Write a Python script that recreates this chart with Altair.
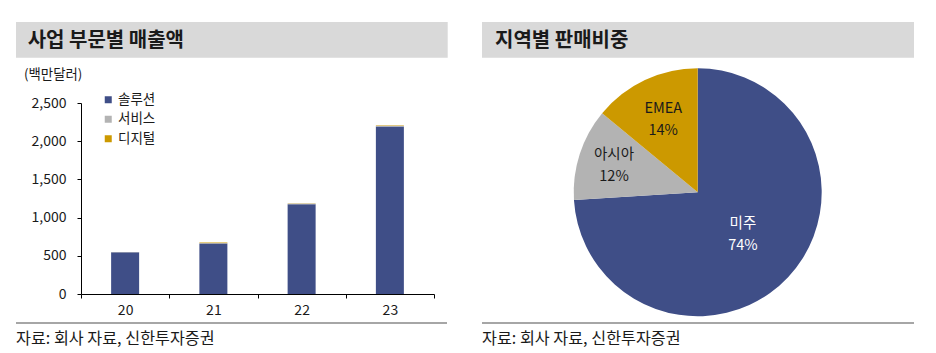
import altair as alt
import pandas as pd

FONT = "Noto Sans CJK KR"

# ---- data ----
years = ["20", "21", "22", "23"]
segments = ["솔루션", "서비스", "디지털"]
solution = [545, 662, 1175, 2192]
service = [5, 4, 8, 9]
digital = [0, 8, 3, 6]
seg_colors = ["#3F4E87", "#B3B3B3", "#CC9900"]
y_ticks = [0, 500, 1000, 1500, 2000, 2500]

regions = ["미주", "아시아", "EMEA"]
shares = [74, 12, 14]
region_colors = ["#3F4E87", "#B3B3B3", "#CC9900"]

left_title = ["사업 부문별 매출액"]
right_title = ["지역별 판매비중"]
unit_label = ["(백만달러)"]
source_label = ["자료: 회사 자료, 신한투자증권"]

# ---- tables ----
rows = []
for i, y in enumerate(years):
    for k, (seg, vals) in enumerate(zip(segments, [solution, service, digital])):
        rows.append({"year": y, "segment": seg, "value": vals[i], "ord": k})
bar_df = pd.DataFrame(rows)

pie_df = pd.DataFrame({
    "region": regions,
    "share": shares,
    "ord": list(range(len(regions))),
    "lbl": [f"{r}\n{s}%" for r, s in zip(regions, shares)],
})

one = lambda t: pd.DataFrame({"t": t})

# ---- left panel (view origin at abs 81,103; 353x191) ----
anchor = alt.Chart(one([""])).mark_rect(color="white").encode(
    x=alt.value(-81), x2=alt.value(855), y=alt.value(-103), y2=alt.value(250))

def band(x0, x1):
    return alt.Chart(one([""])).mark_rect(color="#D9D9D9").encode(
        x=alt.value(x0), x2=alt.value(x1), y=alt.value(-81), y2=alt.value(-45.3))

def title_text(lst, x):
    return alt.Chart(one(lst)).mark_text(
        align="left", baseline="middle", fontSize=20, fontWeight="bold",
        color="#1a1a1a", font=FONT).encode(x=alt.value(x), y=alt.value(-62), text="t:N")

def footer_line(x0, x1):
    return alt.Chart(one([""])).mark_rule(color="#A6A6A6", strokeWidth=2).encode(
        x=alt.value(x0), x2=alt.value(x1), y=alt.value(220))

def footer_text(x):
    return alt.Chart(one(source_label)).mark_text(
        align="left", baseline="middle", fontSize=16.2, color="#1a1a1a", font=FONT).encode(
        x=alt.value(x), y=alt.value(236), text="t:N")

unit = alt.Chart(one(unit_label)).mark_text(
    align="left", baseline="middle", fontSize=13.4, color="#1a1a1a", font=FONT).encode(
    x=alt.value(-57), y=alt.value(-28), text="t:N")

bars = alt.Chart(bar_df).mark_bar(width=28).encode(
    x=alt.X("year:N", sort=years,
            scale=alt.Scale(paddingInner=0, paddingOuter=0),
            axis=alt.Axis(title=None, labelAngle=0, tickBand="extent", tickSize=4,
                          domainColor="#000000", tickColor="#000000", zindex=1,
                          labelFontSize=14, labelPadding=5, labelColor="#1a1a1a",
                          labelFont=FONT)),
    y=alt.Y("value:Q", stack="zero",
            scale=alt.Scale(domain=[0, 2500], nice=False),
            axis=alt.Axis(title=None, values=y_ticks, format=",.0f", grid=False,
                          tickSize=4, labelPadding=11, labelFontSize=14, zindex=1,
                          domainColor="#000000", tickColor="#000000",
                          labelColor="#1a1a1a", labelFont=FONT)),
    color=alt.Color("segment:N", sort=segments,
                    scale=alt.Scale(domain=segments, range=seg_colors),
                    legend=alt.Legend(title=None, orient="none", legendX=20.5, legendY=-10,
                                      symbolType="square", symbolSize=49,
                                      symbolStrokeWidth=0, labelFontSize=13.5,
                                      labelOffset=3, rowPadding=4.5, padding=0,
                                      labelColor="#1a1a1a", labelFont=FONT)),
    order=alt.Order("ord:Q", sort="ascending"),
)

left = alt.layer(
    anchor, band(-65, 366.7), title_text(left_title, -53.3), unit, bars,
    footer_line(-65, 366), footer_text(-65),
).properties(width=353, height=191)

# ---- right panel (view origin at abs 482,103; 432x191) ----
CX, CY = 215.7, 89.3
pie_base = alt.Chart(pie_df).encode(
    theta=alt.Theta("share:Q", stack=True),
    order=alt.Order("ord:Q", sort="ascending"),
)
arcs = pie_base.mark_arc(outerRadius=124).encode(
    color=alt.Color("region:N", scale=alt.Scale(domain=regions, range=region_colors),
                    legend=None),
    x=alt.value(CX), y=alt.value(CY),
)

label_layers = []
for name, rad, col in [("미주", 62, "#FFFFFF"), ("아시아", 88, "#1a1a1a"), ("EMEA", 81, "#1a1a1a")]:
    label_layers.append(
        pie_base.mark_text(radius=rad, fontSize=14.5, lineBreak="\n", lineHeight=22,
                           align="center", baseline="middle", dy=-10.5, font=FONT).encode(
            text="lbl:N",
            color=alt.value(col),
            opacity=alt.condition(alt.datum.region == name, alt.value(1), alt.value(0)),
            x=alt.value(CX), y=alt.value(CY),
        )
    )

right = alt.layer(
    band(0, 432), title_text(right_title, 13), arcs, *label_layers,
    footer_line(0, 432), footer_text(0),
).properties(width=432, height=191)

chart = alt.hconcat(left, right, spacing=48).properties(
    padding=0, bounds="flush", autosize=alt.AutoSizeParams(type="pad"),
).resolve_scale(color="independent").configure(
    font=FONT, view=alt.ViewConfig(stroke=None))

chart.save("out.html", embed_options={"renderer": "svg", "actions": False})
